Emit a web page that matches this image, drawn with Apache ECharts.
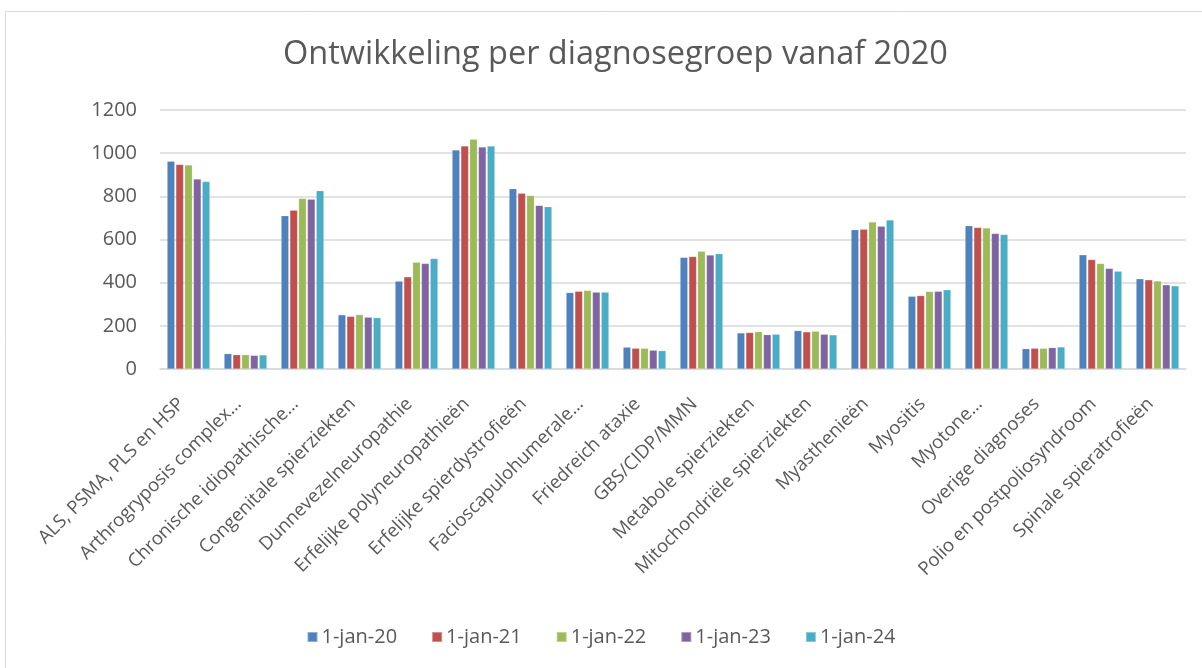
<!DOCTYPE html>
<html>
<head>
<meta charset="utf-8">
<script src="https://cdn.jsdelivr.net/npm/echarts@6/dist/echarts.min.js"></script>
<style>
html,body{margin:0;padding:0;background:#fff;}
#chart{width:1202px;height:668px;}
</style>
</head>
<body>
<div id="chart"></div>
<script>
const categories = [
  "ALS, PSMA, PLS en HSP",
  "Arthrogryposis complex…",
  "Chronische idiopathische…",
  "Congenitale spierziekten",
  "Dunnevezelneuropathie",
  "Erfelijke polyneuropathieën",
  "Erfelijke spierdystrofieën",
  "Facioscapulohumerale…",
  "Friedreich ataxie",
  "GBS/CIDP/MMN",
  "Metabole spierziekten",
  "Mitochondriële spierziekten",
  "Myasthenieën",
  "Myositis",
  "Myotone…",
  "Overige diagnoses",
  "Polio en postpoliosyndroom",
  "Spinale spieratrofieën"
];
const seriesNames = ["1-jan-20","1-jan-21","1-jan-22","1-jan-23","1-jan-24"];
const jan20 = [962, 71, 710, 251, 407, 1015, 835, 354, 101, 517, 167, 178, 645, 337, 664, 94, 529, 418];
const jan21 = [948, 66, 736, 244, 427, 1033, 814, 360, 96, 521, 169, 172, 648, 340, 656, 96, 507, 413];
const jan22 = [945, 66, 790, 252, 495, 1064, 804, 364, 96, 546, 173, 175, 681, 359, 653, 96, 489, 408];
const jan23 = [880, 63, 787, 240, 489, 1029, 758, 356, 87, 528, 159, 161, 661, 360, 628, 99, 466, 390];
const jan24 = [869, 65, 826, 238, 512, 1033, 752, 356, 85, 534, 161, 158, 690, 367, 623, 102, 453, 385];
const yTicks = [0, 200, 400, 600, 800, 1000, 1200];
const colors = ["#4F81BD","#C0504D","#9BBB59","#8064A2","#4BACC6"];
const allData = [jan20, jan21, jan22, jan23, jan24];

const FONT = "Open Sans";
const chart = echarts.init(document.getElementById('chart'), null, {renderer:'canvas'});
chart.setOption({
  animation:false,
  color: colors,
  textStyle:{fontFamily:FONT},
  graphic:[{
    type:'rect', shape:{x:5.5, y:11.5, width:1250, height:700},
    style:{fill:'none', stroke:'#D9D9D9', lineWidth:1}, silent:true
  }],
  title:{
    text:"Ontwikkeling per diagnosegroep vanaf 2020",
    left:278, top:33,
    textStyle:{fontFamily:FONT, fontSize:32.5, fontWeight:'normal', color:'#595959'}
  },
  legend:{
    bottom:16, left:'center',
    itemWidth:10, itemHeight:10, itemGap:34,
    icon:'rect',
    textStyle:{fontFamily:FONT, fontSize:20, color:'#595959', padding:[0,0,0,-1]},
    data: seriesNames
  },
  grid:{left:160, right:16, top:110, bottom:299, containLabel:false},
  xAxis:{
    type:'category', data:categories,
    axisLine:{lineStyle:{color:'#D9D9D9', width:1.5}},
    axisTick:{show:false},
    axisLabel:{rotate:45, interval:0, fontFamily:FONT, fontSize:18.5, color:'#595959',
      margin:25, padding:[0,10,0,0]}
  },
  yAxis:{
    type:'value', min:0, max:1200, interval:200,
    axisLine:{show:false}, axisTick:{show:false},
    splitLine:{lineStyle:{color:'#D9D9D9', width:1.5}},
    axisLabel:{fontFamily:FONT, fontSize:20, color:'#595959', margin:23,
      formatter: v => yTicks.includes(v) ? String(v) : ''}
  },
  series: seriesNames.map((n,i)=>({
    name:n, type:'bar', data:allData[i],
    barGap:'15%', barCategoryGap:'25%',
    itemStyle:{color:colors[i], borderColor:'rgba(255,255,255,0.35)', borderWidth:0.5}
  }))
});
</script>
</body>
</html>
